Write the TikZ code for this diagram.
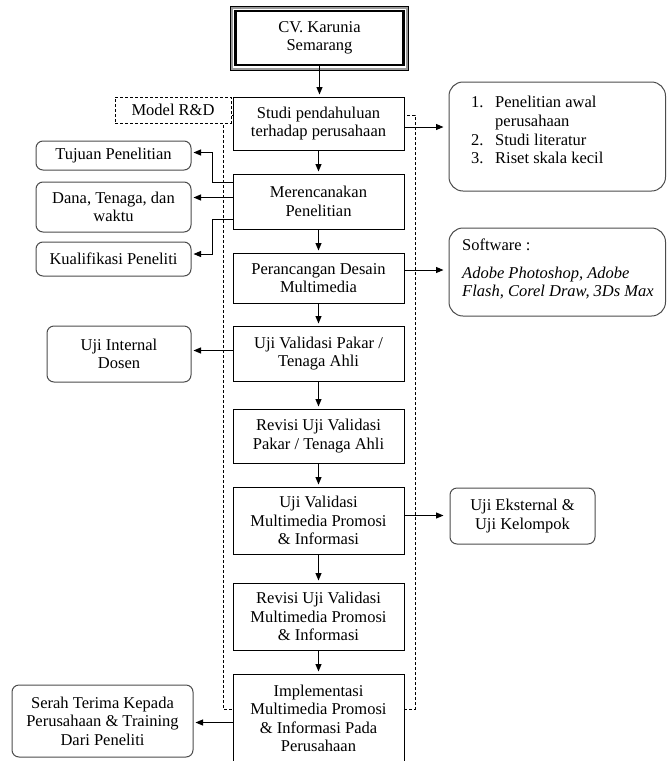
\documentclass[tikz,border=0pt]{standalone}
\usepackage{fontspec}
\setmainfont{Liberation Serif}
\usetikzlibrary{arrows.meta}
\newcommand\dfont{\fontsize{16.5}{18.5}\selectfont}
\begin{document}
\begin{tikzpicture}[x=1pt,y=-1pt,
 box/.style={draw=black, line width=1pt, fill=white, align=center, inner sep=0pt, font=\dfont},
 rbox/.style={box, draw=black!70, rounded corners=7pt},
 bigrbox/.style={box, draw=black!70, rounded corners=14pt},
 dbox/.style={box, dash pattern=on 3pt off 2pt, line width=0.8pt},
 arr/.style={draw=black, line width=1pt, -{Triangle[length=7.5pt,width=6pt]}, shorten >=2pt},
 txt/.style={inner sep=0pt, font=\dfont, anchor=base west}]
\useasboundingbox (0,0) rectangle (667,761);
% dashed R&D frame
\draw[dash pattern=on 3pt off 2pt, line width=0.8pt] (223,115) rectangle (415,709);
% main column
\node[box, line width=2.6pt, minimum width=167.8, minimum height=53.8] (cv) at (319.5,38) {CV. Karunia\\Semarang};
\draw[black!40, line width=2pt] ([xshift=-2.3pt,yshift=2.3pt]cv.north west) rectangle ([xshift=2.3pt,yshift=-2.3pt]cv.south east);
\draw[black, line width=0.8pt] ([xshift=-3.7pt,yshift=3.7pt]cv.north west) rectangle ([xshift=3.7pt,yshift=-3.7pt]cv.south east);
\node[box, minimum width=171, minimum height=53] (studi) at (318.5,123.5) {Studi pendahuluan\\terhadap perusahaan};
\node[box, minimum width=171, minimum height=55] (mer) at (318.5,201.5) {Merencanakan\\Penelitian};
\node[box, minimum width=171, minimum height=50] (per) at (318.5,278) {Perancangan Desain\\Multimedia};
\node[box, minimum width=171, minimum height=55] (pakar) at (318.5,353.5) {Uji Validasi Pakar /\\Tenaga Ahli};
\node[box, minimum width=171, minimum height=54] (revpakar) at (318.5,436) {Revisi Uji Validasi\\Pakar / Tenaga Ahli};
\node[box, minimum width=171, minimum height=67] (uvmm) at (318.5,520.5) {Uji Validasi\\Multimedia Promosi\\\& Informasi};
\node[box, minimum width=171, minimum height=67] (revmm) at (318.5,616.5) {Revisi Uji Validasi\\Multimedia Promosi\\\& Informasi};
\node[box, minimum width=171, minimum height=89] (impl) at (318.5,718.5) {Implementasi\\Multimedia Promosi\\\& Informasi Pada\\Perusahaan};
% model label
\node[dbox, minimum width=116, minimum height=26] (model) at (173,110) {Model R\&D};
% left boxes
\node[rbox, minimum width=155, minimum height=29] (tujuan) at (113.5,155.5) {Tujuan Penelitian};
\node[rbox, minimum width=155, minimum height=50] (dana) at (113.5,207) {Dana, Tenaga, dan\\waktu};
\node[rbox, minimum width=155, minimum height=34] (kual) at (113.5,259) {Kualifikasi Peneliti};
\node[rbox, minimum width=144, minimum height=56] (uint) at (119,354) {Uji Internal\\Dosen};
\node[rbox, minimum width=181, minimum height=72] (serah) at (102.5,721) {Serah Terima Kepada\\Perusahaan \& Training\\Dari Peneliti};
% right boxes
\node[bigrbox, minimum width=216.5, minimum height=109] (list) at (557.25,136.5) {};
\node[txt] (n1) at (471,107.5) {1.};
\node[txt] (t1a) at (495,107.5) {Penelitian awal};
\node[txt] (t1b) at (495,126.5) {perusahaan};
\node[txt] (n2) at (471,145.5) {2.};
\node[txt] (t2) at (495,145.5) {Studi literatur};
\node[txt] (n3) at (471,163.5) {3.};
\node[txt] (t3) at (495,163.5) {Riset skala kecil};
\node[bigrbox, minimum width=216.5, minimum height=88] (soft) at (557.25,272) {};
\node[txt] (s0) at (462,250) {Software :};
\node[txt] (s1) at (462,278) {\itshape Adobe Photoshop, Adobe};
\node[txt] (s2) at (462,296.5) {\itshape Flash, Corel Draw, 3Ds Max};
\node[rbox, minimum width=145, minimum height=56] (uext) at (522.5,516) {Uji Eksternal \&\\Uji Kelompok};
% vertical flow
\draw[arr] (cv.south) -- (cv.south |- studi.north);
\draw[arr] (studi.south) -- (mer.north);
\draw[arr] (mer.south) -- (per.north);
\draw[arr] (per.south) -- (pakar.north);
\draw[arr] (pakar.south) -- (revpakar.north);
\draw[arr] (revpakar.south) -- (uvmm.north);
\draw[arr] (uvmm.south) -- (revmm.north);
\draw[arr] (revmm.south) -- (impl.north);
% left connectors
\draw[arr] ([yshift=-9pt]mer.north west) -- ++(-20,0) |- ([yshift=3pt]tujuan.east);
\coordinate (dstart) at ([yshift=4pt]mer.west);
\draw[arr] (dstart) -- (dstart -| dana.east);
\draw[arr] ([yshift=10pt]mer.south west) -- ++(-20,0) |- ([yshift=5pt]kual.east);
\coordinate (ustart) at ([yshift=3pt]pakar.west);
\draw[arr] (ustart) -- (ustart -| uint.east);
\coordinate (sstart) at ([yshift=-4pt]impl.west);
\draw[arr] (sstart) -- (sstart -| serah.east);
% right connectors
\coordinate (lstart) at ([yshift=-3.5pt]studi.east);
\draw[arr, shorten >=5pt] (lstart) -- (lstart -| list.west);
\coordinate (pstart) at ([yshift=8pt]per.east);
\draw[arr, shorten >=5pt] (pstart) -- (pstart -| soft.west);
\coordinate (ustart2) at ([yshift=5pt]uvmm.east);
\draw[arr, shorten >=6pt] (ustart2) -- (ustart2 -| uext.west);
\end{tikzpicture}
\end{document}
